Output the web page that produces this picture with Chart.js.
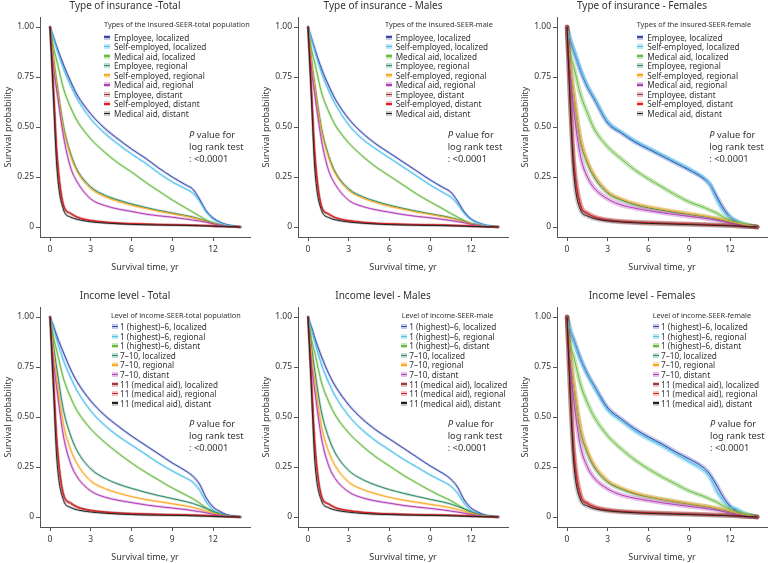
<!DOCTYPE html>
<html><head><meta charset="utf-8">
<script src="https://cdn.jsdelivr.net/npm/chart.js@4.4.0/dist/chart.umd.min.js"></script>
<style>
body{margin:0;background:#fff;width:768px;height:563px;overflow:hidden;position:relative;font-family:'Noto Sans',sans-serif;}
canvas{position:absolute;}
.lt,.le,.pv{position:absolute;white-space:nowrap;color:#333;}
.lt{font-size:7.3px;line-height:9px;}
.le{font-size:8.2px;line-height:9px;}
.key{position:absolute;width:6px;height:5px;}
.key i{position:absolute;left:0;right:0;top:1.8px;height:1.5px;}
.pv{font-size:9.3px;line-height:12px;}
</style></head><body>
<script>
// ---------- shared axes / labels ----------
const times = [0, 0.25, 0.5, 1, 1.5, 2, 3, 4, 5, 6, 7, 8, 9, 10, 10.5, 11, 11.5, 12, 12.5, 13, 14];
const xTickValues = [0, 3, 6, 9, 12];
const xTickLabels = ['0', '3', '6', '9', '12'];
const yTickValues = [0, 0.25, 0.5, 0.75, 1];
const yTickLabels = ['0', '0.25', '0.50', '0.75', '1.00'];
const panelTitles = ['Type of insurance -Total', 'Type of insurance - Males', 'Type of insurance - Females',
  'Income level - Total', 'Income level - Males', 'Income level - Females'];
const legendTitles = ['Types of the insured-SEER-total population', 'Types of the insured-SEER-male', 'Types of the insured-SEER-female',
  'Level of income-SEER-total population', 'Level of income-SEER-male', 'Level of income-SEER-female'];
const insuranceLabels = ['Employee, localized', 'Self-employed, localized', 'Medical aid, localized',
  'Employee, regional', 'Self-employed, regional', 'Medical aid, regional',
  'Employee, distant', 'Self-employed, distant', 'Medical aid, distant'];
const incomeLabels = ['1 (highest)\u20136, localized', '1 (highest)\u20136, regional', '1 (highest)\u20136, distant',
  '7\u201310, localized', '7\u201310, regional', '7\u201310, distant',
  '11 (medical aid), localized', '11 (medical aid), regional', '11 (medical aid), distant'];

// ---------- Type of insurance - Total ----------
const insTotEmpLoc  = [1, 0.95, 0.9, 0.81, 0.73, 0.66, 0.565, 0.495, 0.44, 0.39, 0.345, 0.295, 0.25, 0.21, 0.19, 0.14, 0.08, 0.045, 0.025, 0.012, 0];
const insTotSelfLoc = [1, 0.945, 0.89, 0.79, 0.71, 0.64, 0.54, 0.47, 0.415, 0.365, 0.32, 0.27, 0.225, 0.19, 0.17, 0.13, 0.075, 0.04, 0.022, 0.01, 0];
const insTotMedLoc  = [1, 0.9, 0.83, 0.69, 0.6, 0.53, 0.44, 0.375, 0.32, 0.275, 0.225, 0.18, 0.135, 0.095, 0.075, 0.055, 0.035, 0.02, 0.01, 0.005, 0];
const insTotEmpReg  = [1, 0.85, 0.72, 0.5, 0.37, 0.285, 0.2, 0.16, 0.135, 0.115, 0.098, 0.083, 0.07, 0.057, 0.05, 0.04, 0.03, 0.02, 0.011, 0.005, 0];
const insTotSelfReg = [1, 0.84, 0.71, 0.49, 0.36, 0.277, 0.192, 0.153, 0.128, 0.109, 0.093, 0.079, 0.066, 0.054, 0.047, 0.038, 0.028, 0.018, 0.01, 0.004, 0];
const insTotMedReg  = [1, 0.8, 0.68, 0.45, 0.3, 0.225, 0.14, 0.108, 0.09, 0.078, 0.065, 0.056, 0.049, 0.04, 0.035, 0.03, 0.024, 0.016, 0.009, 0.004, 0];
const insTotEmpDis  = [1, 0.69, 0.37, 0.105, 0.067, 0.048, 0.032, 0.024, 0.019, 0.016, 0.014, 0.012, 0.011, 0.01, 0.009, 0.008, 0.007, 0.005, 0.003, 0.002, 0];
const insTotSelfDis = [1, 0.7, 0.38, 0.11, 0.07, 0.05, 0.033, 0.025, 0.02, 0.017, 0.015, 0.013, 0.011, 0.01, 0.009, 0.008, 0.007, 0.005, 0.003, 0.002, 0];
const insTotMedDis  = [1, 0.65, 0.3, 0.085, 0.05, 0.038, 0.026, 0.02, 0.016, 0.013, 0.011, 0.01, 0.009, 0.008, 0.007, 0.006, 0.005, 0.004, 0.003, 0.002, 0];

// ---------- Type of insurance - Males ----------
const insMalEmpLoc  = [1, 0.945, 0.89, 0.79, 0.71, 0.64, 0.54, 0.47, 0.415, 0.37, 0.325, 0.28, 0.235, 0.195, 0.175, 0.13, 0.075, 0.04, 0.022, 0.01, 0];
const insMalSelfLoc = [1, 0.94, 0.88, 0.77, 0.685, 0.615, 0.51, 0.44, 0.39, 0.345, 0.3, 0.255, 0.21, 0.17, 0.15, 0.115, 0.068, 0.037, 0.02, 0.01, 0];
const insMalMedLoc  = [1, 0.89, 0.82, 0.67, 0.58, 0.51, 0.42, 0.355, 0.3, 0.255, 0.21, 0.165, 0.125, 0.088, 0.068, 0.05, 0.032, 0.018, 0.009, 0.004, 0];
const insMalEmpReg  = [1, 0.84, 0.71, 0.49, 0.36, 0.275, 0.19, 0.152, 0.128, 0.109, 0.093, 0.079, 0.066, 0.054, 0.047, 0.038, 0.028, 0.018, 0.01, 0.004, 0];
const insMalSelfReg = [1, 0.835, 0.7, 0.48, 0.35, 0.268, 0.183, 0.146, 0.122, 0.104, 0.089, 0.075, 0.063, 0.051, 0.044, 0.036, 0.026, 0.017, 0.009, 0.004, 0];
const insMalMedReg  = [1, 0.79, 0.66, 0.43, 0.285, 0.213, 0.133, 0.103, 0.086, 0.074, 0.062, 0.053, 0.046, 0.037, 0.032, 0.027, 0.021, 0.014, 0.008, 0.003, 0];
const insMalEmpDis  = [1, 0.68, 0.36, 0.1, 0.064, 0.046, 0.031, 0.023, 0.018, 0.015, 0.013, 0.011, 0.01, 0.009, 0.008, 0.007, 0.006, 0.004, 0.003, 0.002, 0];
const insMalSelfDis = [1, 0.69, 0.37, 0.105, 0.067, 0.048, 0.032, 0.024, 0.019, 0.016, 0.014, 0.012, 0.011, 0.01, 0.009, 0.008, 0.007, 0.005, 0.003, 0.002, 0];
const insMalMedDis  = [1, 0.64, 0.29, 0.082, 0.048, 0.036, 0.025, 0.019, 0.015, 0.012, 0.01, 0.009, 0.008, 0.007, 0.006, 0.005, 0.004, 0.003, 0.002, 0.001, 0];

// ---------- Type of insurance - Females ----------
const insFemEmpLoc  = [1, 0.93, 0.88, 0.78, 0.7, 0.64, 0.52, 0.47, 0.425, 0.39, 0.355, 0.32, 0.285, 0.245, 0.215, 0.155, 0.095, 0.05, 0.025, 0.008, 0];
const insFemSelfLoc = [1, 0.935, 0.885, 0.785, 0.705, 0.645, 0.525, 0.475, 0.43, 0.395, 0.36, 0.325, 0.29, 0.25, 0.215, 0.14, 0.08, 0.05, 0.03, 0.015, 0];
const insFemMedLoc  = [1, 0.86, 0.8, 0.66, 0.57, 0.49, 0.4, 0.34, 0.285, 0.24, 0.2, 0.16, 0.125, 0.1, 0.085, 0.07, 0.05, 0.035, 0.025, 0.015, 0];
const insFemEmpReg  = [1, 0.8, 0.66, 0.43, 0.32, 0.25, 0.17, 0.135, 0.112, 0.096, 0.084, 0.073, 0.063, 0.053, 0.047, 0.04, 0.033, 0.026, 0.018, 0.01, 0];
const insFemSelfReg = [1, 0.805, 0.665, 0.44, 0.33, 0.26, 0.175, 0.14, 0.117, 0.1, 0.088, 0.077, 0.066, 0.056, 0.05, 0.043, 0.036, 0.028, 0.02, 0.012, 0];
const insFemMedReg  = [1, 0.75, 0.58, 0.35, 0.25, 0.195, 0.14, 0.11, 0.094, 0.082, 0.071, 0.062, 0.053, 0.045, 0.04, 0.035, 0.028, 0.02, 0.012, 0.006, 0];
const insFemEmpDis  = [1, 0.62, 0.33, 0.11, 0.07, 0.052, 0.036, 0.029, 0.025, 0.022, 0.02, 0.018, 0.016, 0.014, 0.013, 0.011, 0.01, 0.008, 0.006, 0.004, 0];
const insFemSelfDis = [1, 0.61, 0.32, 0.105, 0.067, 0.05, 0.034, 0.027, 0.023, 0.02, 0.018, 0.016, 0.014, 0.012, 0.011, 0.01, 0.009, 0.007, 0.005, 0.003, 0];
const insFemMedDis  = [1, 0.58, 0.27, 0.085, 0.055, 0.042, 0.031, 0.025, 0.021, 0.018, 0.016, 0.014, 0.012, 0.01, 0.009, 0.008, 0.007, 0.006, 0.005, 0.003, 0];

// ---------- Income level - Total ----------
const incTotHighLoc = [1, 0.955, 0.905, 0.82, 0.74, 0.675, 0.58, 0.51, 0.455, 0.405, 0.36, 0.315, 0.27, 0.23, 0.205, 0.165, 0.095, 0.05, 0.028, 0.012, 0];
const incTotHighReg = [1, 0.945, 0.885, 0.78, 0.7, 0.63, 0.53, 0.46, 0.405, 0.36, 0.315, 0.27, 0.23, 0.195, 0.175, 0.135, 0.075, 0.035, 0.018, 0.008, 0];
const incTotHighDis = [1, 0.9, 0.83, 0.69, 0.6, 0.53, 0.44, 0.375, 0.32, 0.27, 0.225, 0.185, 0.145, 0.11, 0.092, 0.07, 0.045, 0.025, 0.012, 0.005, 0];
const incTotMidLoc  = [1, 0.86, 0.74, 0.53, 0.41, 0.33, 0.24, 0.195, 0.165, 0.143, 0.124, 0.107, 0.092, 0.077, 0.068, 0.056, 0.043, 0.028, 0.016, 0.007, 0];
const incTotMidReg  = [1, 0.83, 0.69, 0.46, 0.34, 0.265, 0.18, 0.143, 0.12, 0.102, 0.088, 0.077, 0.066, 0.055, 0.048, 0.04, 0.03, 0.02, 0.011, 0.005, 0];
const incTotMidDis  = [1, 0.78, 0.64, 0.4, 0.27, 0.2, 0.13, 0.1, 0.084, 0.072, 0.061, 0.052, 0.045, 0.037, 0.032, 0.027, 0.021, 0.014, 0.008, 0.004, 0];
const incTotAidLoc  = [1, 0.7, 0.39, 0.115, 0.073, 0.052, 0.034, 0.026, 0.021, 0.018, 0.016, 0.014, 0.012, 0.011, 0.01, 0.009, 0.008, 0.006, 0.004, 0.002, 0];
const incTotAidReg  = [1, 0.69, 0.37, 0.105, 0.067, 0.048, 0.032, 0.024, 0.019, 0.016, 0.014, 0.012, 0.011, 0.01, 0.009, 0.008, 0.007, 0.005, 0.003, 0.002, 0];
const incTotAidDis  = [1, 0.64, 0.29, 0.082, 0.048, 0.036, 0.025, 0.019, 0.015, 0.012, 0.01, 0.009, 0.008, 0.007, 0.006, 0.005, 0.004, 0.003, 0.002, 0.001, 0];

// ---------- Income level - Males ----------
const incMalHighLoc = [1, 0.95, 0.895, 0.8, 0.72, 0.655, 0.56, 0.49, 0.435, 0.39, 0.345, 0.3, 0.255, 0.215, 0.19, 0.15, 0.085, 0.045, 0.025, 0.01, 0];
const incMalHighReg = [1, 0.94, 0.875, 0.76, 0.675, 0.605, 0.505, 0.435, 0.38, 0.335, 0.29, 0.25, 0.21, 0.175, 0.155, 0.12, 0.068, 0.033, 0.016, 0.007, 0];
const incMalHighDis = [1, 0.89, 0.82, 0.67, 0.58, 0.51, 0.42, 0.355, 0.3, 0.255, 0.21, 0.17, 0.132, 0.098, 0.082, 0.062, 0.04, 0.022, 0.011, 0.005, 0];
const incMalMidLoc  = [1, 0.855, 0.73, 0.52, 0.4, 0.32, 0.232, 0.188, 0.159, 0.137, 0.119, 0.103, 0.088, 0.074, 0.065, 0.053, 0.041, 0.027, 0.015, 0.007, 0];
const incMalMidReg  = [1, 0.82, 0.68, 0.45, 0.33, 0.256, 0.174, 0.138, 0.116, 0.098, 0.085, 0.074, 0.063, 0.053, 0.046, 0.038, 0.029, 0.019, 0.01, 0.005, 0];
const incMalMidDis  = [1, 0.77, 0.63, 0.39, 0.26, 0.192, 0.125, 0.096, 0.08, 0.069, 0.058, 0.05, 0.043, 0.035, 0.03, 0.025, 0.019, 0.013, 0.007, 0.003, 0];
const incMalAidLoc  = [1, 0.69, 0.37, 0.105, 0.067, 0.048, 0.032, 0.024, 0.019, 0.016, 0.014, 0.012, 0.011, 0.01, 0.009, 0.008, 0.007, 0.005, 0.003, 0.002, 0];
const incMalAidReg  = [1, 0.68, 0.36, 0.1, 0.064, 0.046, 0.031, 0.023, 0.018, 0.015, 0.013, 0.011, 0.01, 0.009, 0.008, 0.007, 0.006, 0.004, 0.003, 0.002, 0];
const incMalAidDis  = [1, 0.63, 0.28, 0.08, 0.047, 0.035, 0.024, 0.018, 0.014, 0.012, 0.01, 0.009, 0.008, 0.007, 0.006, 0.005, 0.004, 0.003, 0.002, 0.001, 0];

// ---------- Income level - Females ----------
const incFemHighLoc = [1, 0.93, 0.885, 0.79, 0.715, 0.655, 0.545, 0.49, 0.44, 0.4, 0.365, 0.325, 0.29, 0.25, 0.215, 0.16, 0.1, 0.055, 0.03, 0.01, 0];
const incFemHighReg = [1, 0.93, 0.88, 0.785, 0.71, 0.65, 0.535, 0.48, 0.43, 0.39, 0.355, 0.315, 0.275, 0.235, 0.2, 0.13, 0.08, 0.05, 0.04, 0.02, 0];
const incFemHighDis = [1, 0.86, 0.8, 0.66, 0.57, 0.5, 0.405, 0.34, 0.285, 0.24, 0.2, 0.165, 0.13, 0.105, 0.09, 0.075, 0.055, 0.04, 0.028, 0.018, 0];
const incFemMidLoc  = [1, 0.8, 0.66, 0.43, 0.32, 0.25, 0.175, 0.14, 0.116, 0.1, 0.088, 0.076, 0.065, 0.055, 0.049, 0.042, 0.035, 0.027, 0.019, 0.011, 0];
const incFemMidReg  = [1, 0.805, 0.665, 0.44, 0.33, 0.26, 0.18, 0.145, 0.12, 0.103, 0.09, 0.078, 0.067, 0.057, 0.051, 0.044, 0.037, 0.029, 0.02, 0.012, 0];
const incFemMidDis  = [1, 0.75, 0.58, 0.35, 0.25, 0.195, 0.14, 0.11, 0.094, 0.082, 0.071, 0.062, 0.053, 0.045, 0.04, 0.035, 0.028, 0.02, 0.012, 0.006, 0];
const incFemAidLoc  = [1, 0.62, 0.33, 0.11, 0.07, 0.052, 0.036, 0.029, 0.025, 0.022, 0.02, 0.018, 0.016, 0.014, 0.013, 0.011, 0.01, 0.008, 0.006, 0.004, 0];
const incFemAidReg  = [1, 0.61, 0.32, 0.105, 0.067, 0.05, 0.034, 0.027, 0.023, 0.02, 0.018, 0.016, 0.014, 0.012, 0.011, 0.01, 0.009, 0.007, 0.005, 0.003, 0];
const incFemAidDis  = [1, 0.58, 0.27, 0.085, 0.055, 0.042, 0.031, 0.025, 0.021, 0.018, 0.016, 0.014, 0.012, 0.01, 0.009, 0.008, 0.007, 0.006, 0.005, 0.003, 0];

// ---------- styling ----------
const lineColors = ['#3949ab', '#4fc1e9', '#66bb3f', '#2e8b62', '#f9a825', '#b23db5', '#a0393b', '#e41a1c', '#222222'];
const bandColors = ['rgba(57,73,171,0.3)', 'rgba(79,193,233,0.38)', 'rgba(102,187,63,0.35)', 'rgba(46,139,98,0.3)',
  'rgba(249,168,37,0.35)', 'rgba(178,61,181,0.32)', 'rgba(160,57,59,0.3)', 'rgba(228,26,28,0.25)', 'rgba(80,80,80,0.3)'];

const panelSeries = [
  [insTotEmpLoc, insTotSelfLoc, insTotMedLoc, insTotEmpReg, insTotSelfReg, insTotMedReg, insTotEmpDis, insTotSelfDis, insTotMedDis],
  [insMalEmpLoc, insMalSelfLoc, insMalMedLoc, insMalEmpReg, insMalSelfReg, insMalMedReg, insMalEmpDis, insMalSelfDis, insMalMedDis],
  [insFemEmpLoc, insFemSelfLoc, insFemMedLoc, insFemEmpReg, insFemSelfReg, insFemMedReg, insFemEmpDis, insFemSelfDis, insFemMedDis],
  [incTotHighLoc, incTotHighReg, incTotHighDis, incTotMidLoc, incTotMidReg, incTotMidDis, incTotAidLoc, incTotAidReg, incTotAidDis],
  [incMalHighLoc, incMalHighReg, incMalHighDis, incMalMidLoc, incMalMidReg, incMalMidDis, incMalAidLoc, incMalAidReg, incMalAidDis],
  [incFemHighLoc, incFemHighReg, incFemHighDis, incFemMidLoc, incFemMidReg, incFemMidDis, incFemAidLoc, incFemAidReg, incFemAidDis]
];
const panelLabels = [insuranceLabels, insuranceLabels, insuranceLabels, incomeLabels, incomeLabels, incomeLabels];

// layout: axis line x, canvas top, title centre, legend title x, key x, text x, legend title y, first entry y, pv x, pv top, band width
const layouts = [
  {ax: 40,  top: 0,   tc: 144, ltx: 104,   kx: 104,   tx: 114,   lty: 24.7, ly0: 37.0,  pvx: 189,   pvy: 129,   band: 2.5},
  {ax: 298, top: 0,   tc: 408, ltx: 385,   kx: 386,   tx: 395.7, lty: 24.7, ly0: 37.0,  pvx: 447.7, pvy: 129,   band: 2.5},
  {ax: 557, top: 0,   tc: 661, ltx: 636.7, kx: 637,   tx: 647.3, lty: 24.7, ly0: 37.0,  pvx: 709.3, pvy: 129,   band: 4.5},
  {ax: 40,  top: 290, tc: 144, ltx: 111,   kx: 112,   tx: 120,   lty: 315,  ly0: 326.7, pvx: 189,   pvy: 418.3, band: 2.5},
  {ax: 298, top: 290, tc: 403, ltx: 401.7, kx: 401,   tx: 409.3, lty: 315,  ly0: 326.7, pvx: 447.7, pvy: 418.3, band: 2.5},
  {ax: 557, top: 290, tc: 662, ltx: 652.7, kx: 652.7, tx: 661,   lty: 315,  ly0: 326.7, pvx: 710,   pvy: 418.3, band: 4.5}
];
const PLOT_W = 210, PLOT_TOP = 17, PLOT_H = 220, XAX_H = 36, YAX_W = 40;

Chart.defaults.font.family = "'Noto Sans', sans-serif";
Chart.defaults.color = '#333';

function addDiv(cls, x, y, html, extra) {
  const d = document.createElement('div');
  d.className = cls;
  d.style.left = x + 'px';
  d.style.top = y + 'px';
  d.innerHTML = html;
  if (extra) Object.assign(d.style, extra);
  document.body.appendChild(d);
  return d;
}

layouts.forEach((L, p) => {
  const left = L.ax - YAX_W;
  const width = Math.round(2 * (L.tc - left));
  const height = PLOT_TOP + PLOT_H + XAX_H;
  const canvas = document.createElement('canvas');
  canvas.width = width; canvas.height = height;
  canvas.style.left = left + 'px'; canvas.style.top = L.top + 'px';
  canvas.style.width = width + 'px'; canvas.style.height = height + 'px';
  document.body.appendChild(canvas);

  const datasets = [];
  panelSeries[p].forEach((vals, k) => {
    const pts = times.map((t, j) => ({x: t, y: vals[j]}));
    datasets.push({label: panelLabels[p][k] + ' CI', data: pts, borderColor: bandColors[k], borderWidth: L.band,
      pointRadius: 0, cubicInterpolationMode: 'monotone', fill: false, order: 100 + (8 - k), borderCapStyle: 'round'});
    datasets.push({label: panelLabels[p][k], data: pts, borderColor: lineColors[k], borderWidth: 1,
      pointRadius: 0, cubicInterpolationMode: 'monotone', fill: false, order: 8 - k});
  });

  new Chart(canvas, {
    type: 'line',
    data: {datasets},
    options: {
      responsive: false, animation: false, events: [], devicePixelRatio: 1,
      layout: {padding: {left: 0, top: 0, bottom: 0, right: width - YAX_W - PLOT_W}},
      plugins: {
        legend: {display: false}, tooltip: {enabled: false},
        title: {display: true, text: panelTitles[p], color: '#333',
          font: {size: 10, weight: 'normal', lineHeight: 1.2}, padding: {top: 0, bottom: 5}}
      },
      scales: {
        x: {
          type: 'linear', min: -0.74, max: 14.72,
          afterBuildTicks: s => { s.ticks = xTickValues.map(v => ({value: v})); },
          afterFit: s => { s.height = XAX_H; },
          ticks: {callback: v => xTickLabels[xTickValues.indexOf(v)], font: {size: 8.5}, color: '#333', padding: 3, maxRotation: 0, autoSkip: false},
          grid: {display: true, drawOnChartArea: false, drawTicks: true, tickLength: 4, color: '#555'},
          border: {display: true, color: '#555', width: 1},
          title: {display: true, text: 'Survival time, yr', font: {size: 9, lineHeight: 1.2}, color: '#333', padding: {top: 0, bottom: 0}}
        },
        y: {
          type: 'linear', min: -0.05, max: 1.05,
          afterBuildTicks: s => { s.ticks = yTickValues.map(v => ({value: v})); },
          afterFit: s => { s.width = YAX_W; },
          ticks: {callback: v => yTickLabels[yTickValues.indexOf(v)], font: {size: 8.5}, color: '#333', padding: 2, autoSkip: false},
          grid: {display: true, drawOnChartArea: false, drawTicks: true, tickLength: 4, color: '#555'},
          border: {display: true, color: '#555', width: 1},
          title: {display: true, text: 'Survival probability', font: {size: 9, lineHeight: 1.2}, color: '#333', padding: {top: 3.5, bottom: 0}}
        }
      }
    }
  });

  // legend (inside plot, top right)
  addDiv('lt', L.ltx, L.lty - 4.5, legendTitles[p]);
  panelLabels[p].forEach((lab, k) => {
    const cy = L.ly0 + k * 9.55;
    const key = addDiv('key', L.kx, cy - 2.5, '<i></i>', {background: bandColors[k]});
    key.firstChild.style.background = lineColors[k];
    addDiv('le', L.tx, cy - 4.5, lab);
  });
  // p value annotation
  addDiv('pv', L.pvx, L.pvy, '<i>P</i> value for<br>log rank test<br>: &lt;0.0001');
});
</script>
</body></html>
